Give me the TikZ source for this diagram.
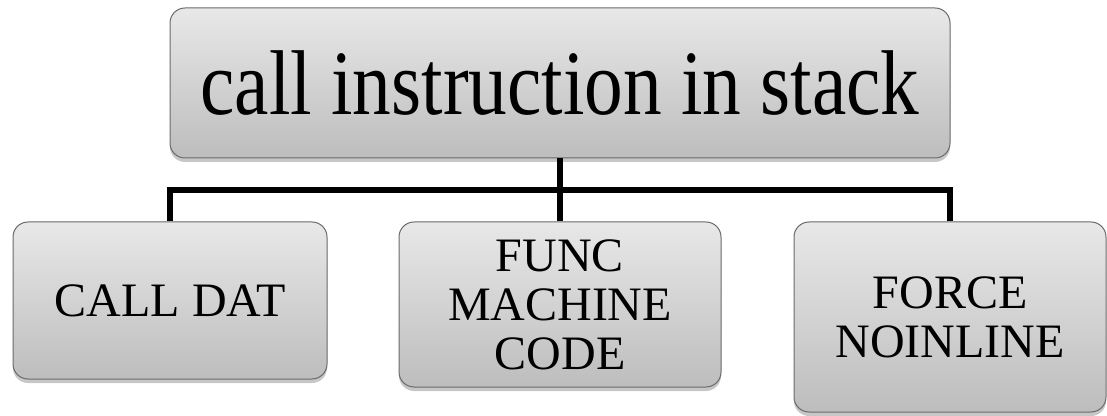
\documentclass[tikz,border=0pt]{standalone}
\usepackage{fontspec}
\setmainfont{Liberation Serif}
\newfontfamily\headfont{Liberation Serif}[FakeStretch=0.84]
\usetikzlibrary{shadows}
\definecolor{boxtop}{HTML}{E8E8E8}
\definecolor{boxbottom}{HTML}{BDBDBD}
\definecolor{boxedge}{HTML}{6A6A6A}
\tikzset{
  x=1pt, y=1pt,
  card/.style={rectangle, rounded corners=15pt, draw=boxedge, line width=1pt,
    top color=boxtop, bottom color=boxbottom, inner sep=0pt, align=center,
    drop shadow={shadow xshift=0pt, shadow yshift=-4pt, opacity=0.22, fill=black}},
  headcard/.style={card, font=\headfont\fontsize{92}{100}\selectfont},
  leafcard/.style={card, font=\fontsize{48}{49}\selectfont},
  conn/.style={line width=5.5pt, line join=miter, black}
}
\begin{document}
\begin{tikzpicture}
\useasboundingbox (0,0) rectangle (1107,415);
\node[headcard, minimum width=780pt, minimum height=150pt] (top) at (560,332) {call instruction in stack};
\node[leafcard, minimum width=314pt, minimum height=157pt] (left) at (170,114.5) {CALL DAT};
\node[leafcard, minimum width=322pt, minimum height=165pt] (mid) at (560,110.5) {FUNC\\MACHINE\\CODE};
\node[leafcard, minimum width=312pt, minimum height=190pt] (right) at (950,98) {FORCE\\NOINLINE};
\coordinate (bus) at (560,225);
\begin{scope}[on background layer/.try]
\draw[conn] (top.south) -- (mid.north);
\draw[conn] (left.north) |- (bus) -| (right.north);
\end{scope}
\end{tikzpicture}
\end{document}
